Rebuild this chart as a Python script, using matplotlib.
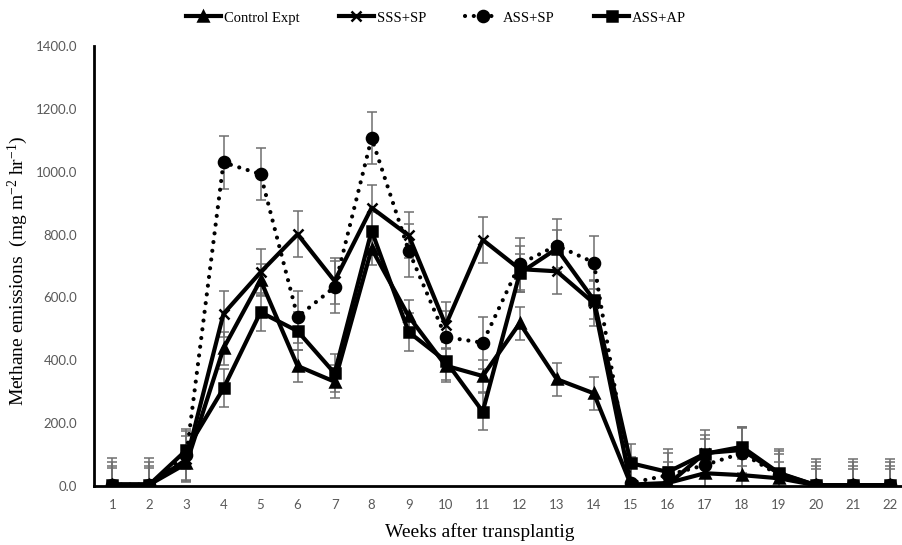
import matplotlib
matplotlib.use("Agg")
import matplotlib.pyplot as plt

# --------------------------------------------------------
# Data
# --------------------------------------------------------
weeks = list(range(1, 23))

control = [5, 5, 72, 438, 655, 382, 332, 755, 540, 383, 350, 518,
           340, 295, 5, 10, 41, 35, 25, 3, 3, 3]
sss_sp = [5, 5, 85, 548, 680, 801, 652, 885, 797, 512, 783, 690,
          683, 582, 3, 5, 105, 115, 40, 3, 3, 3]
ass_sp = [5, 5, 100, 1029, 992, 538, 633, 1107, 749, 474, 456, 706,
          765, 711, 10, 35, 67, 105, 35, 3, 3, 3]
ass_ap = [5, 5, 115, 311, 553, 493, 359, 812, 490, 398, 237, 677,
          755, 592, 73, 45, 103, 125, 42, 3, 3, 3]

# standard errors (roughly constant per treatment)
control_err = 52
sss_sp_err = 73
ass_sp_err = 83
ass_ap_err = 60

labels = ["Control Expt", "SSS+SP", "ASS+SP", "ASS+AP"]
yticks = [0, 200, 400, 600, 800, 1000, 1200, 1400]

# --------------------------------------------------------
# Plot
# --------------------------------------------------------
serif = "Liberation Serif"
tickfont = "Lato"
dots = (0, (0.01, 2.1))

plt.rcParams["mathtext.fontset"] = "custom"
plt.rcParams["mathtext.rm"] = serif
plt.rcParams["mathtext.it"] = serif + ":italic"

fig = plt.figure(figsize=(9.03, 5.45), dpi=100)
ax = fig.add_axes([0.104, 0.108, 0.896, 0.808])

series = [
    (control, control_err, "^", "-", 7),
    (sss_sp, sss_sp_err, "x", "-", 7),
    (ass_sp, ass_sp_err, "o", dots, 8),
    (ass_ap, ass_ap_err, "s", "-", 7),
]

handles = []
for (vals, err, mk, ls, ms), lab in zip(series, labels):
    ax.errorbar(weeks, vals, yerr=err, fmt="none", ecolor="#6f6f6f",
                elinewidth=1.1, capsize=3.5, capthick=1.1, zorder=1)
    ln, = ax.plot(weeks, vals, color="black", linestyle=ls, linewidth=3,
                  marker=mk, markersize=ms, markeredgewidth=1.8,
                  dash_capstyle="round", zorder=3, label=lab)
    handles.append(ln)

ax.set_xlim(0.5, 22.35)
ax.set_ylim(0, 1400)
ax.set_xticks(weeks)
ax.set_xticklabels([str(w) for w in weeks], fontfamily=tickfont,
                   fontsize=9.5, color="#595959")
ax.set_yticks(yticks)
ax.set_yticklabels([f"{v:.1f}" for v in yticks], fontfamily=tickfont,
                   fontsize=9.5, color="#595959")
ax.tick_params(axis="y", length=0, pad=12)
ax.tick_params(axis="x", length=0, pad=9)

for side in ["top", "right"]:
    ax.spines[side].set_visible(False)
for side in ["left", "bottom"]:
    ax.spines[side].set_linewidth(2)
    ax.spines[side].set_color("black")

ax.set_ylabel(r"Methane emissions  (mg m$^{-2}$ hr$^{-1}$)", fontfamily=serif,
              fontsize=14)
ax.yaxis.set_label_coords(-0.079, 0.49)
ax.set_xlabel("Weeks after transplantig", fontfamily=serif, fontsize=14)
ax.xaxis.set_label_coords(0.477, -0.085)

fig.legend(handles=handles, labels=labels, loc="center",
           bbox_to_anchor=(0.483, 0.967), ncol=4, frameon=False,
           prop={"family": serif, "size": 10.5}, handlelength=2.4,
           handletextpad=0.2, columnspacing=2.7)

fig.savefig("out.png", dpi=100)
